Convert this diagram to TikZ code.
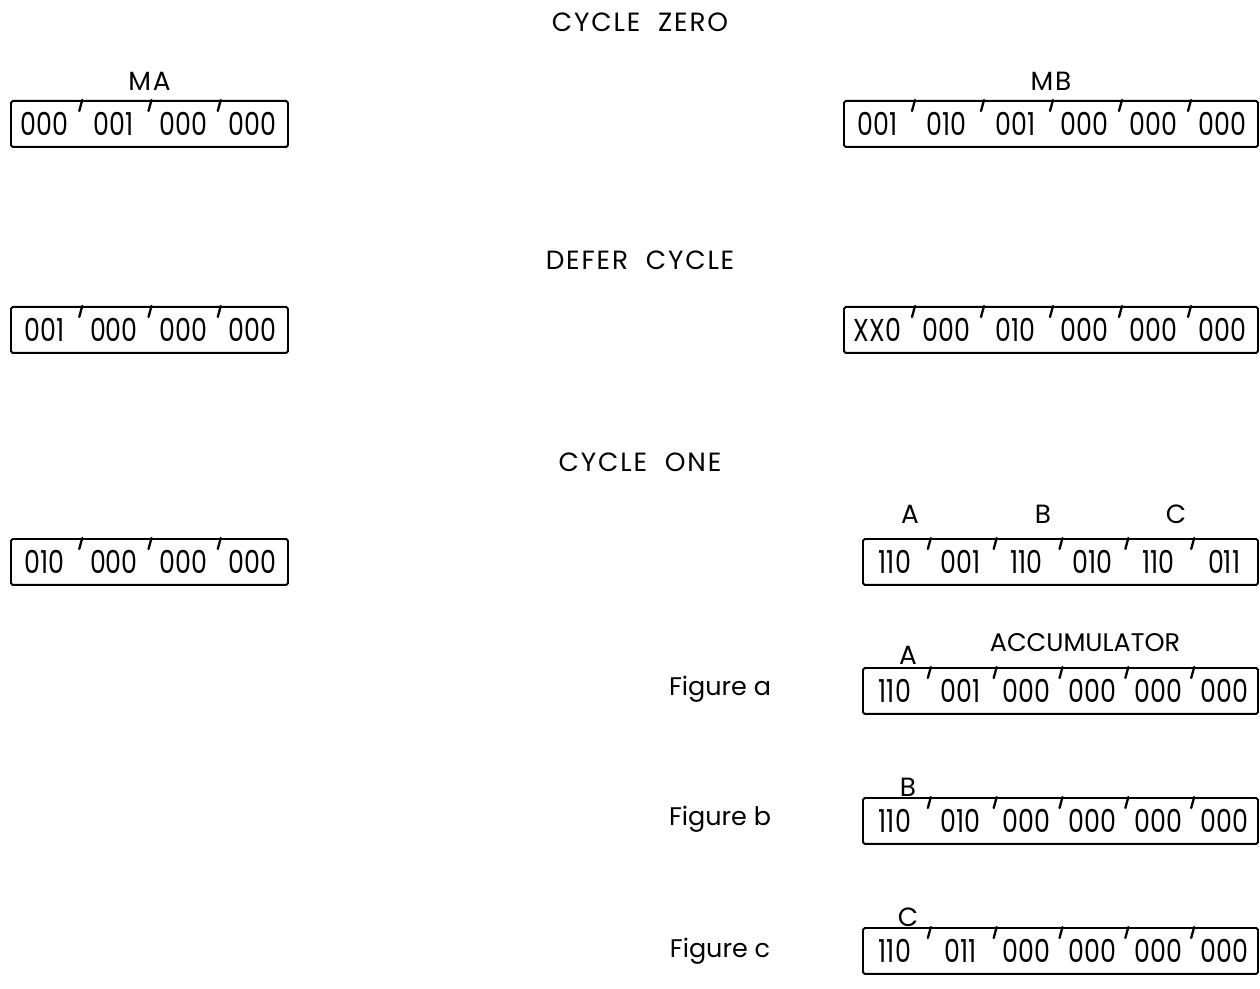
\documentclass[tikz,border=0pt]{standalone}
\usepackage{fontspec}
\setmainfont{Poppins}
\newfontfamily\bitfont{Poppins}[FakeStretch=0.8]
\newfontfamily\capfont{Poppins}[LetterSpace=7]
\usetikzlibrary{positioning}

\begin{document}
\begin{tikzpicture}[x=0.02cm, y=-0.02cm, line join=round, line cap=round,
    lbl/.style={font=\capfont\fontsize{15}{17}\selectfont, inner sep=1pt},
    fig/.style={font=\fontsize{14.5}{16}\selectfont, inner sep=1pt},
    bits/.style={font=\bitfont\fontsize{18}{20}\selectfont, inner sep=0pt},
    reg/.style={draw, line width=1.1pt, rounded corners=1pt, minimum height=0.92cm, inner sep=0pt, anchor=north west},
    tick/.style={line width=1.3pt}]
  \useasboundingbox (0,0) rectangle (1260,989);
  % headings
  \node[lbl] (zero) at (640,22) {CYCLE\ \ ZERO};
  \node[lbl] (defer) at (640,260) {DEFER\ \ CYCLE};
  \node[lbl] (one) at (640,462) {CYCLE\ \ ONE};
  % registers
  \foreach \name/\xl/\xr/\yt/\n/\bits in {
      ma0/10/287/100/4/{000,001,000,000},
      mb0/843/1257/100/6/{001,010,001,000,000,000},
      ma1/10/287/306/4/{001,000,000,000},
      mb1/843/1257/306/6/{XX0,000,010,000,000,000},
      ma2/10/287/538/4/{010,000,000,000},
      mb2/862/1257/538/6/{110,001,110,010,110,011},
      acca/862/1257/667/6/{110,001,000,000,000,000},
      accb/862/1257/797/6/{110,010,000,000,000,000},
      accc/862/1257/927/6/{110,011,000,000,000,000}} {
    \pgfmathsetmacro\w{(\xr-\xl)/\n}
    \pgfmathsetmacro\bw{(\xr-\xl)*0.02}
    \node[reg, minimum width=\bw cm] (\name) at (\xl,\yt) {};
    \foreach \g [count=\i] in \bits {
      \node[bits] (\name-\i) at ({\xl+(\i-0.5)*\w},{\yt+24}) {\g};
      \ifnum\i>1 \draw[tick] ({\xl+(\i-1)*\w+3},\yt) -- ++(-3,11); \fi
    }
  }
  \node[lbl, above=4pt of ma0] (malbl) {MA};
  \node[lbl, above=4pt of mb0] (mblbl) {MB};
  \node[lbl] (mb2-a) at (910,514) {A};
  \node[lbl] (mb2-b) at (1043,514) {B};
  \node[lbl] (mb2-c) at (1176,514) {C};
  % accumulator
  \node[fig] (acclbl) at (1085,643) {ACCUMULATOR};
  \node[lbl] (acca-lbl) at (908,655) {A};
  \node[lbl] (accb-lbl) at (908,787) {B};
  \node[lbl] (accc-lbl) at (908,917) {C};
  \node[fig] (figa) at (720,689) {Figure a};
  \node[fig] (figb) at (720,819) {Figure b};
  \node[fig] (figc) at (720,951) {Figure c};
\end{tikzpicture}
\end{document}
